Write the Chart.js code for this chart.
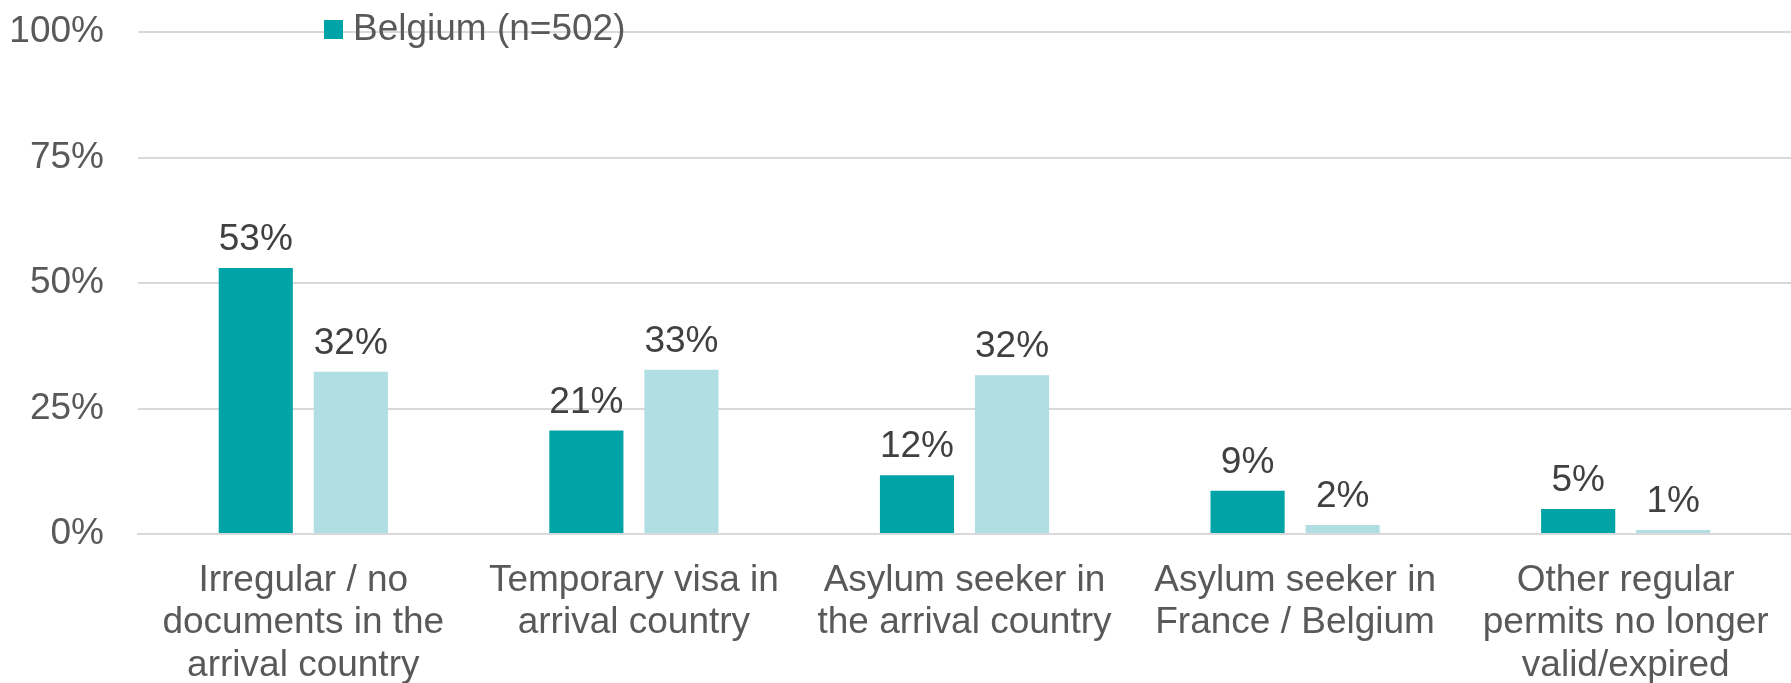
<!DOCTYPE html>
<html>
<head>
<meta charset="utf-8">
<script src="https://cdn.jsdelivr.net/npm/chart.js@4.4.1/dist/chart.umd.min.js"></script>
<style>
  html, body { margin: 0; padding: 0; background: #fff; }
  #wrap { width: 1791px; height: 683px; position: relative; }
</style>
</head>
<body>
<div id="wrap"><canvas id="chart"></canvas></div>
<script>
// categorías (etiquetas del eje x, una línea por elemento)
const categorias = [
  ["Irregular / no", "documents in the", "arrival country"],
  ["Temporary visa in", "arrival country"],
  ["Asylum seeker in", "the arrival country"],
  ["Asylum seeker in", "France / Belgium"],
  ["Other regular", "permits no longer", "valid/expired"]
];

// valores (%)
const belgica = [53.0, 20.6, 11.7, 8.6, 5.0];
const segunda = [32.3, 32.7, 31.6, 1.8, 0.8];

const ticksY = [0, 25, 50, 75, 100];

const COLOR_OSCURO = '#00a3a6';
const COLOR_CLARO = '#b0dee3';
const FUENTE = '"Liberation Sans", Arial, sans-serif';

// etiquetas de valor encima de cada barra
const etiquetasValor = {
  id: 'etiquetasValor',
  afterDatasetsDraw(chart) {
    const ctx = chart.ctx;
    ctx.save();
    ctx.font = `37px ${FUENTE}`;
    ctx.fillStyle = '#404040';
    ctx.textAlign = 'center';
    ctx.textBaseline = 'alphabetic';
    chart.data.datasets.forEach((ds, i) => {
      const meta = chart.getDatasetMeta(i);
      meta.data.forEach((bar, j) => {
        ctx.fillText(Math.round(ds.data[j]) + '%', bar.x, bar.y - 18);
      });
    });
    ctx.restore();
  }
};

// leyenda: solo la primera serie, encima de la línea del 100%
const leyenda = {
  id: 'leyenda',
  afterDraw(chart) {
    const ctx = chart.ctx;
    const area = chart.chartArea;
    const x = area.left + 186;
    const y = area.top - 3;
    ctx.save();
    ctx.fillStyle = COLOR_OSCURO;
    ctx.fillRect(x, y - 9, 19, 19);
    ctx.font = `37px ${FUENTE}`;
    ctx.fillStyle = '#595959';
    ctx.textAlign = 'left';
    ctx.textBaseline = 'middle';
    ctx.fillText(chart.data.datasets[0].label, x + 29, y + 1);
    ctx.restore();
  }
};

new Chart(document.getElementById('chart'), {
  type: 'bar',
  data: {
    labels: categorias,
    datasets: [
      {
        label: 'Belgium (n=502)',
        data: belgica,
        backgroundColor: COLOR_OSCURO,
        categoryPercentage: 0.575,
        barPercentage: 0.78
      },
      {
        label: 'France',
        data: segunda,
        backgroundColor: COLOR_CLARO,
        categoryPercentage: 0.575,
        barPercentage: 0.78
      }
    ]
  },
  options: {
    responsive: true,
    maintainAspectRatio: false,
    animation: false,
    layout: { padding: { top: 32, right: 0, bottom: 0, left: 0 } },
    plugins: {
      legend: { display: false },
      tooltip: { enabled: false }
    },
    scales: {
      x: {
        grid: { display: false, drawTicks: false },
        border: { display: true, color: '#d9d9d9', width: 2 },
        ticks: {
          color: '#595959',
          font: { family: FUENTE, size: 37, lineHeight: 1.14 },
          padding: 26,
          maxRotation: 0,
          autoSkip: false
        },
        afterFit(scale) {
          scale.height = 149;
          scale.paddingLeft = 0;
          scale.paddingRight = 0;
        }
      },
      y: {
        min: 0,
        max: 100,
        afterBuildTicks(scale) { scale.ticks = ticksY.map(v => ({ value: v })); },
        grid: { color: '#d9d9d9', lineWidth: 2, drawTicks: false },
        border: { display: false },
        ticks: {
          color: '#595959',
          font: { family: FUENTE, size: 37 },
          padding: 34,
          callback: v => v + '%'
        },
        afterFit(scale) {
          scale.width = 138;
          scale.paddingTop = 0;
          scale.paddingBottom = 0;
        }
      }
    }
  },
  plugins: [etiquetasValor, leyenda]
});
</script>
</body>
</html>
